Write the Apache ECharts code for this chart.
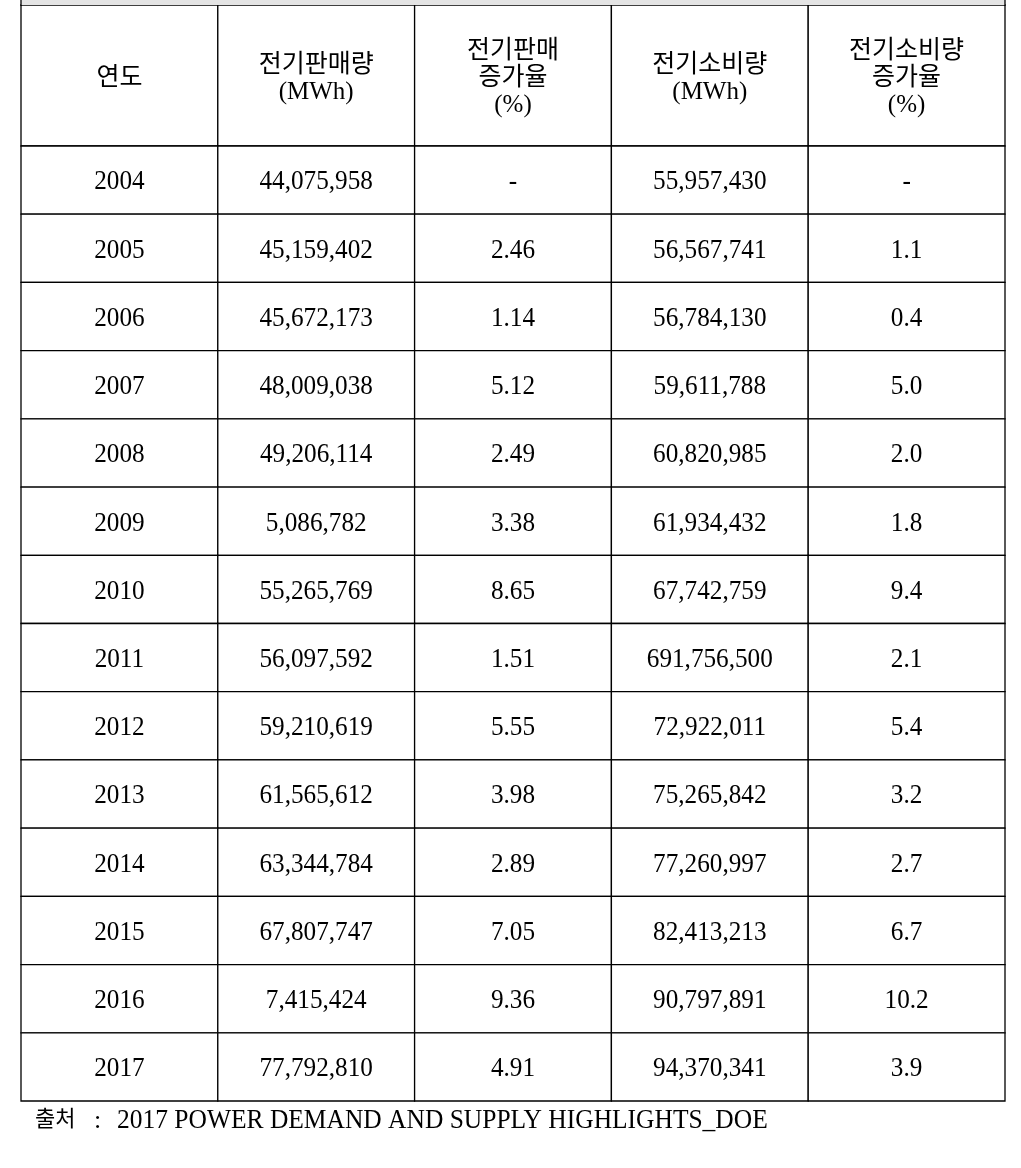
<!DOCTYPE html>
<html><head><meta charset="utf-8">
<script src="https://cdn.jsdelivr.net/npm/echarts@6/dist/echarts.min.js"></script>
<style>html,body{margin:0;padding:0;background:#fff}#c{width:1021px;height:1168px}</style>
</head><body><div id="c"></div>
<script>
// ---- data ----
var headers = ['연도', '전기판매량\n(MWh)', '전기판매\n증가율\n(%)', '전기소비량\n(MWh)', '전기소비량\n증가율\n(%)'];
var years = ['2004','2005','2006','2007','2008','2009','2010','2011','2012','2013','2014','2015','2016','2017'];
var salesMWh = [44075958, 45159402, 45672173, 48009038, 49206114, 5086782, 55265769, 56097592, 59210619, 61565612, 63344784, 67807747, 7415424, 77792810];
var salesGrowth = [null, 2.46, 1.14, 5.12, 2.49, 3.38, 8.65, 1.51, 5.55, 3.98, 2.89, 7.05, 9.36, 4.91];
var consMWh = [55957430, 56567741, 56784130, 59611788, 60820985, 61934432, 67742759, 691756500, 72922011, 75265842, 77260997, 82413213, 90797891, 94370341];
var consGrowth = [null, 1.1, 0.4, 5.0, 2.0, 1.8, 9.4, 2.1, 5.4, 3.2, 2.7, 6.7, 10.2, 3.9];
var sourceLabel = '출처';
var sourceText = '2017 POWER DEMAND AND SUPPLY HIGHLIGHTS_DOE';

// ---- build cells ----
function fmtInt(v){ return String(v).replace(/\B(?=(\d{3})+(?!\d))/g, ','); }
function fmtDec(v, d){ return v === null ? '-' : v.toFixed(d); }
var colIdx = [0,1,2,3,4];
var rowIdx = years.map(function(_, i){ return i; });
var headerData = headers.map(function(h, c){ return [c, 0, h]; });
var bodyData = [];
years.forEach(function(y, r){
  bodyData.push([0, r, y]);
  bodyData.push([1, r, fmtInt(salesMWh[r])]);
  bodyData.push([2, r, fmtDec(salesGrowth[r], 2)]);
  bodyData.push([3, r, fmtInt(consMWh[r])]);
  bodyData.push([4, r, fmtDec(consGrowth[r], 1)]);
});

var FONT = "'Liberation Serif', 'Noto Sans CJK KR', serif";
function cellRenderer(isHeader){
  return function(params, api){
    var c = api.value(0), r = api.value(1);
    var center = api.coord([c, r]);
    var size = api.size([1, 1]);
    var txt = (isHeader ? headerData : bodyData)[params.dataIndex][2];
    var w = size[0], h = size[1];
    return {
      type: 'group',
      children: [
        {type: 'rect', shape: {x: center[0] - w/2, y: center[1] - h/2, width: w, height: h},
         style: {fill: '#fff', stroke: '#000', lineWidth: 1.3}},
        {type: 'text', x: center[0], y: center[1] + (isHeader ? 3 : 2), scaleX: isHeader ? 1 : 0.9,
         style: {text: txt, fill: '#000', font: (isHeader ? '25px ' : '28px ') + FONT,
                 align: 'center', verticalAlign: 'middle', lineHeight: 27}}
      ]
    };
  };
}

var chart = echarts.init(document.getElementById('c'), null, {renderer: 'canvas'});
chart.setOption({
  backgroundColor: '#fff',
  animation: false,
  grid: [
    {left: 21, right: 16, top: 5, height: 141},
    {left: 21, right: 16, top: 146, height: 955}
  ],
  xAxis: [
    {type: 'category', gridIndex: 0, data: colIdx, show: false},
    {type: 'category', gridIndex: 1, data: colIdx, show: false}
  ],
  yAxis: [
    {type: 'category', gridIndex: 0, data: [0], inverse: true, show: false},
    {type: 'category', gridIndex: 1, data: rowIdx, inverse: true, show: false}
  ],
  graphic: [
    {type: 'rect', x: 21, y: 0, shape: {x: 0, y: 0, width: 984, height: 5}, style: {fill: '#e4e4e4'}, z: 10},
    {type: 'line', shape: {x1: 21, y1: 0, x2: 21, y2: 6}, style: {stroke: '#000', lineWidth: 1.3}, z: 10},
    {type: 'line', shape: {x1: 1005, y1: 0, x2: 1005, y2: 6}, style: {stroke: '#000', lineWidth: 1.3}, z: 10},
    {type: 'text', x: 35, y: 1120, style: {text: sourceLabel, fill: '#000', font: '22px ' + FONT, verticalAlign: 'middle'}, z: 10},
    {type: 'text', x: 94, y: 1121, style: {text: ':', fill: '#000', font: '26px ' + FONT, verticalAlign: 'middle'}, z: 10},
    {type: 'text', x: 117, y: 1121, scaleX: 0.91, style: {text: sourceText, fill: '#000', font: '28px ' + FONT, verticalAlign: 'middle'}, z: 10}
  ],
  series: [
    {type: 'custom', xAxisIndex: 0, yAxisIndex: 0, data: headerData, renderItem: cellRenderer(true), silent: true},
    {type: 'custom', xAxisIndex: 1, yAxisIndex: 1, data: bodyData, renderItem: cellRenderer(false), silent: true}
  ]
});
</script></body></html>
